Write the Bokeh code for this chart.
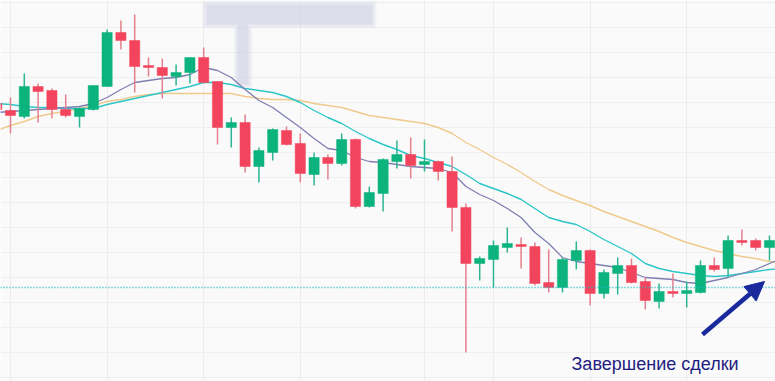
from bokeh.plotting import figure
from bokeh.models import (ColumnDataSource, Range1d, Grid, FixedTicker, Span,
                          Label, Arrow, NormalHead)
from bokeh.embed import file_html
from bokeh.resources import INLINE

# ---- data (candle index, OHLC) ----
idx = list(range(-1, 56))
opens = [297, 290, 284, 314, 310, 291, 284, 291, 314, 368, 360, 335, 333, 324, 328, 343,
         319, 273, 278, 234, 248, 270, 257, 226, 243, 237, 261, 194, 207, 239, 246, 236,
         239, 229, 193, 137, 141, 153, 156, 154, 118, 113, 140, 150, 107, 127, 135, 119,
         99, 109, 107, 108, 135, 132, 160, 160, 153]
highs = [300, 303, 327, 317, 312, 306, 293, 315, 371, 380, 386, 343, 342, 336, 343, 353,
         319, 283, 286, 253, 272, 274, 267, 248, 246, 267, 262, 214, 242, 260, 263, 261,
         240, 244, 197, 144, 160, 173, 163, 158, 151, 143, 159, 151, 131, 143, 142, 123,
         117, 127, 119, 140, 143, 165, 171, 162, 165]
lows = [288, 267, 282, 278, 282, 283, 273, 290, 314, 351, 308, 324, 302, 315, 317, 317,
        256, 253, 228, 218, 240, 255, 218, 215, 221, 235, 192, 193, 189, 232, 222, 229,
        220, 169, 48, 120, 113, 148, 132, 115, 108, 108, 131, 95, 102, 106, 117, 91,
        92, 103, 93, 107, 129, 123, 155, 150, 140]
closes = [291, 285, 314, 309, 291, 285, 292, 315, 368, 360, 334, 333, 325, 328, 343, 318,
          273, 278, 234, 250, 271, 256, 227, 243, 237, 261, 194, 208, 241, 246, 235, 239,
          229, 193, 137, 142, 155, 157, 154, 117, 113, 141, 150, 107, 128, 135, 118, 100,
          109, 107, 110, 135, 131, 160, 158, 153, 160]

# moving averages (read at each candle, one extra point on the right)
ma_idx = list(range(-1, 57))
ma_fast = [288, 289, 290, 291, 292, 293, 294, 297, 303, 311, 318, 320, 322, 323, 326, 333,
           330, 323, 311, 300, 293, 283, 273, 262, 252, 250, 243, 239, 238, 236, 234, 233,
           232, 228, 214, 206, 200, 192, 183, 168, 157, 143, 139, 137, 135, 133, 128, 123,
           122, 121, 118, 117, 120, 123, 127, 131, 137, 143]
ma_mid = [297, 296, 294, 293, 293, 292, 292, 292, 296, 299, 302, 305, 308, 311, 314, 318,
          318, 316, 312, 310, 308, 304, 298, 290, 283, 277, 269, 262, 256, 251, 245, 242,
          238, 234, 226, 217, 212, 207, 201, 192, 183, 179, 176, 169, 161, 154, 147, 137,
          132, 129, 127, 125, 124, 125, 127, 129, 131, 132]
ma_slow = [270, 275, 279, 284, 287, 289, 292, 295, 299, 301, 304, 306, 307, 307, 307, 307,
           307, 307, 304, 302, 301, 301, 300, 297, 295, 293, 289, 285, 283, 281, 279, 277,
           273, 267, 258, 251, 243, 236, 228, 219, 211, 205, 200, 195, 189, 184, 179, 174,
           169, 163, 158, 154, 150, 147, 144, 142, 139, 137]

exit_level = 113
grid_days = [0, 7, 14, 21, 30, 35, 42, 49]
price_grid = [23 + 25 * k for k in range(16)]
annotation_text = "Завершение сделки"

GREEN = "#0db37c"
RED = "#f2455d"
GREEN_WICK = "#2bb592"
RED_WICK = "#e5808e"

colors = [GREEN if c >= o else RED for o, c in zip(opens, closes)]
wick_colors = [GREEN_WICK if c >= o else RED_WICK for o, c in zip(opens, closes)]
src = ColumnDataSource(dict(
    x=idx, open=opens, high=highs, low=lows, close=closes,
    top=[max(o, c) for o, c in zip(opens, closes)],
    bottom=[min(o, c) for o, c in zip(opens, closes)],
    color=colors, wick=wick_colors))

step = 13.8
p = figure(width=775, height=381, output_backend="svg", toolbar_location=None,
           x_range=Range1d(-10 / step, 765 / step), y_range=Range1d(19, 400),
           x_axis_location=None, y_axis_location=None, min_border=0)
p.background_fill_color = "#fafafa"
p.border_fill_color = "#fafafa"
p.outline_line_color = None
p.grid.visible = False

p.add_layout(Grid(dimension=0, ticker=FixedTicker(ticks=grid_days),
                  grid_line_color="#ececec", grid_line_width=1))
p.add_layout(Grid(dimension=1, ticker=FixedTicker(ticks=price_grid),
                  grid_line_color="#efefef", grid_line_width=1))

p.add_layout(Span(location=exit_level, dimension="width", line_color="#18b8c2",
                  line_dash="1 2", line_width=1.3))

# blurred redaction box (soft layered edges)
box_l, box_r, box_t, box_b = (205 - 10) / step, (373 - 10) / step, 397, 375
bar_l, bar_r, bar_b = (236 - 10) / step, (249 - 10) / step, 315
for grow, a in [(3.0, 0.12), (1.5, 0.18), (0.0, 0.22), (-1.5, 0.25)]:
    gx = grow / step
    p.quad(left=[box_l - gx], right=[box_r + gx], top=[box_t + grow],
           bottom=[box_b - grow], fill_color="#c8cae3", fill_alpha=a, line_color=None)
    p.quad(left=[bar_l - gx], right=[bar_r + gx], top=[box_b - grow],
           bottom=[bar_b - grow], fill_color="#c8cae3", fill_alpha=a, line_color=None)

p.line(ma_idx, ma_slow, line_color="#f0c98c", line_width=1.4)
p.line(ma_idx, ma_mid, line_color="#2cc6c8", line_width=1.4)
p.line(ma_idx, ma_fast, line_color="#7f7fb2", line_width=1.3)

p.segment(x0="x", x1="x", y0="low", y1="high", line_color="wick", line_width=1.5, source=src)
p.vbar(x="x", width=0.74, top="top", bottom="bottom", fill_color="color",
       line_color="color", line_width=0.5, source=src)

p.add_layout(Arrow(end=NormalHead(size=19, fill_color="#1a2a9c", line_color="#1a2a9c"),
                   x_start=(702 - 10) / step, y_start=400 - 334,
                   x_end=(764 - 10) / step, y_end=400 - 281,
                   line_color="#1a2a9c", line_width=4.5))
p.add_layout(Label(x=(571 - 10) / step, y=400 - 363, text=annotation_text,
                   text_font="Liberation Sans", text_font_size="18px",
                   text_color="#1f1c7f", text_baseline="alphabetic"))

open("out.html", "w").write(file_html(p, INLINE))
